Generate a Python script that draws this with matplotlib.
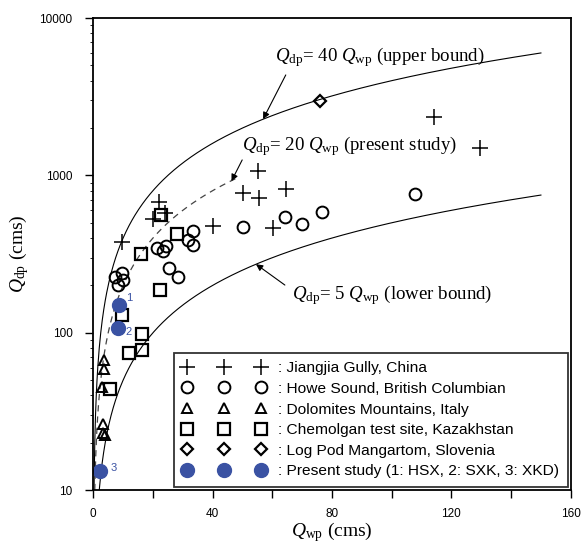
import numpy as np
import matplotlib
matplotlib.use('Agg')
import matplotlib.pyplot as plt

plt.rcParams['font.family'] = ['Liberation Sans', 'DejaVu Sans']
plt.rcParams['mathtext.fontset'] = 'custom'
plt.rcParams['mathtext.rm'] = 'Liberation Serif'
plt.rcParams['mathtext.it'] = 'Liberation Serif:italic'

# Jiangjia Gully, China
jj_x = [9.5, 22.1, 20.1, 24.0, 40.2, 50.2, 55.6, 64.5, 60.1, 55.1, 114.3, 129.5]
jj_y = [380, 680, 526, 574, 477, 769, 718, 816, 461, 1066, 2360, 1490]
# Howe Sound, British Columbian
hs_x = [7.3, 8.4, 9.5, 9.9, 21.2, 23.2, 24.3, 31.8, 33.3, 33.3, 25.5, 28.4,
        50.2, 64.2, 70.1, 76.5, 107.7]
hs_y = [226, 201, 239, 216, 344, 331, 356, 388, 446, 361, 257, 227,
        470, 548, 489, 588, 760]
# Dolomites Mountains, Italy
dm_x = [3.7, 3.7, 3.0, 3.3, 3.3, 3.9]
dm_y = [67, 58.5, 45, 26.5, 23, 22.4]
# Chemolgan test site, Kazakhstan
ch_x = [28.1, 16.0, 22.3, 22.7, 9.5, 16.4, 16.2, 12.1, 5.6]
ch_y = [422, 316, 187, 560, 129, 98, 78, 74, 44]
# Log Pod Mangartom, Slovenia
lp_x = [76.0]
lp_y = [2950]
# Present study
ps_x = [8.6, 8.3, 2.2]
ps_y = [150, 107, 13.2]
ps_lab = ['1', '2', '3']

blue = '#3a52a3'

fig = plt.figure(figsize=(5.83, 5.47), dpi=100)
ax = fig.add_axes([0.160, 0.104, 0.819, 0.863])

# bound lines
xu = np.linspace(0.25, 150, 600)
ax.plot(xu, 40 * xu, color='black', lw=0.8)
xm = np.linspace(0.5, 49, 300)
ax.plot(xm, 20 * xm, color='#444444', lw=0.9, ls=(0, (5, 4)))
xl = np.linspace(2, 150, 600)
ax.plot(xl, 5 * xl, color='black', lw=0.8)

ax.plot(jj_x, jj_y, ls='none', marker='+', ms=11, mew=1.1, color='black',
        label=': Jiangjia Gully, China')
ax.plot(hs_x, hs_y, ls='none', marker='o', ms=8.5, mew=1.4, mfc='none', mec='black',
        label=': Howe Sound, British Columbian')
ax.plot(dm_x, dm_y, ls='none', marker='^', ms=7.5, mew=1.4, mfc='none', mec='black',
        label=': Dolomites Mountains, Italy')
ax.plot(ch_x, ch_y, ls='none', marker='s', ms=9, mew=1.6, mfc='none', mec='black',
        label=': Chemolgan test site, Kazakhstan')
ax.plot(lp_x, lp_y, ls='none', marker='D', ms=6.5, mew=1.6, mfc='none', mec='black',
        label=': Log Pod Mangartom, Slovenia')
ax.plot(ps_x, ps_y, ls='none', marker='o', ms=10, color=blue,
        label=': Present study (1: HSX, 2: SXK, 3: XKD)')
offs = [(5, 5), (5, -3), (8, 2)]
for x, y, t, o in zip(ps_x, ps_y, ps_lab, offs):
    ax.annotate(t, (x, y), xytext=o, textcoords='offset points',
                color=blue, fontsize=8, va='center')

# annotations: text, then arrow
fs = 13.6
serif = 'Liberation Serif'
arrow = dict(arrowstyle='-|>', color='black', lw=0.8, shrinkA=0, shrinkB=0,
             mutation_scale=10)
ax.text(60.9, 5660, r'$\mathit{Q}_{\mathrm{dp}}$= 40 $\mathit{Q}_{\mathrm{wp}}$ (upper bound)',
        fontsize=fs, family=serif, va='center')
ax.annotate('', xy=(56.9, 2277), xytext=(64.5, 4350), arrowprops=arrow)
ax.text(49.8, 1538, r'$\mathit{Q}_{\mathrm{dp}}$= 20 $\mathit{Q}_{\mathrm{wp}}$ (present study)',
        fontsize=fs, family=serif, va='center')
ax.annotate('', xy=(46.3, 920), xytext=(49.9, 1254), arrowprops=arrow)
ax.text(66.5, 174, r'$\mathit{Q}_{\mathrm{dp}}$= 5 $\mathit{Q}_{\mathrm{wp}}$ (lower bound)',
        fontsize=fs, family=serif, va='center')
ax.annotate('', xy=(54.5, 273), xytext=(64.2, 201), arrowprops=arrow)

ax.set_yscale('log')
ax.set_xlim(0, 160)
ax.set_ylim(10, 10000)
ax.set_xticks([0, 40, 80, 120, 160])
ax.set_xticks([20, 60, 100, 140], minor=True)
ax.set_yticks([10, 100, 1000, 10000])
ax.set_yticklabels(['10', '100', '1000', '10000'])
ax.tick_params(axis='both', which='major', direction='out', length=6, width=1,
               labelsize=8.5)
ax.tick_params(axis='y', which='major', pad=9)
ax.tick_params(axis='x', which='major', pad=7)
ax.tick_params(axis='x', which='minor', direction='out', length=6, width=1)
ax.tick_params(axis='y', which='minor', direction='out', length=2, width=0.6)
ax.tick_params(top=False, right=False, which='both')
for s in ax.spines.values():
    s.set_linewidth(1.3)

ax.set_xlabel(r'$\mathit{Q}_{\mathrm{wp}}$ (cms)', fontsize=14,
              family=serif, labelpad=0)
ax.set_ylabel(r'$\mathit{Q}_{\mathrm{dp}}$ (cms)', fontsize=14,
              family=serif, labelpad=6)

leg = ax.legend(loc='lower right', numpoints=3, handlelength=5.37, handletextpad=0.8,
                labelspacing=0.43, fontsize=11.15, frameon=True, fancybox=False,
                borderaxespad=0.2, borderpad=0.55, edgecolor='black')
leg.get_frame().set_linewidth(1.3)

fig.savefig('out.png', dpi=100)
